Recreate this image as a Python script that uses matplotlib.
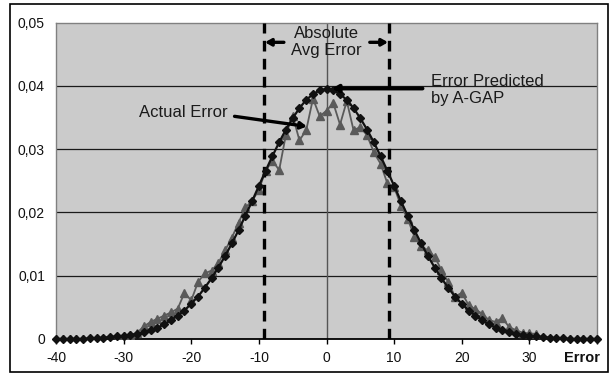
import matplotlib
matplotlib.use("Agg")
import matplotlib.pyplot as plt
from matplotlib.patches import Rectangle

plt.rcParams['font.family'] = ['Liberation Sans', 'DejaVu Sans']

# ---------------- data ----------------
x_values = list(range(-40, 41))

predicted = [
    0.0000, 0.0000, 0.0000, 0.0000, 0.0000, 0.0001, 0.0001, 0.0002, 0.0003, 0.0004,   # -40..-31
    0.0005, 0.0006, 0.0008, 0.0011, 0.0014, 0.0018, 0.0023, 0.0030, 0.0037, 0.0045,   # -30..-21
    0.0056, 0.0067, 0.0081, 0.0096, 0.0113, 0.0131, 0.0151, 0.0172, 0.0195, 0.0218,   # -20..-11
    0.0242, 0.0266, 0.0289, 0.0311, 0.0331, 0.0349, 0.0365, 0.0378, 0.0387, 0.0393,   # -10..-1
    0.0395,                                                                           # 0
    0.0393, 0.0387, 0.0378, 0.0365, 0.0349, 0.0331, 0.0311, 0.0289, 0.0266, 0.0242,   # 1..10
    0.0218, 0.0195, 0.0172, 0.0151, 0.0131, 0.0113, 0.0096, 0.0081, 0.0067, 0.0056,   # 11..20
    0.0045, 0.0037, 0.0030, 0.0023, 0.0018, 0.0014, 0.0011, 0.0008, 0.0006, 0.0005,   # 21..30
    0.0004, 0.0003, 0.0002, 0.0001, 0.0001, 0.0000, 0.0000, 0.0000, 0.0000, 0.0000,   # 31..40
]

actual = [
    0.0000, 0.0000, 0.0000, 0.0000, 0.0000, 0.0000, 0.0000, 0.0000, 0.0000, 0.0000,   # -40..-31
    0.0004, 0.0006, 0.0010, 0.0020, 0.0027, 0.0032, 0.0037, 0.0042, 0.0048, 0.0073,   # -30..-21
    0.0061, 0.0090, 0.0104, 0.0108, 0.0120, 0.0140, 0.0160, 0.0184, 0.0208, 0.0218,   # -20..-11
    0.0236, 0.0266, 0.0282, 0.0267, 0.0323, 0.0353, 0.0314, 0.0330, 0.0380, 0.0352,   # -10..-1
    0.0361,                                                                           # 0
    0.0373, 0.0339, 0.0376, 0.0330, 0.0335, 0.0322, 0.0295, 0.0277, 0.0246, 0.0240,   # 1..10
    0.0211, 0.0190, 0.0162, 0.0147, 0.0140, 0.0130, 0.0109, 0.0090, 0.0067, 0.0073,   # 11..20
    0.0054, 0.0047, 0.0040, 0.0030, 0.0027, 0.0033, 0.0019, 0.0014, 0.0010, 0.0009,   # 21..30
    0.0008, 0.0000, 0.0000, 0.0000, 0.0000, 0.0000, 0.0000, 0.0000, 0.0000, 0.0000,   # 31..40
]

x_ticks = [-40, -30, -20, -10, 0, 10, 20, 30, 40]
x_tick_labels = ['-40', '-30', '-20', '-10', '0', '10', '20', '30', '']
y_ticks = [0, 0.01, 0.02, 0.03, 0.04, 0.05]
y_tick_labels = ['0', '0,01', '0,02', '0,03', '0,04', '0,05']
abs_avg_error = 9.3

# ---------------- figure ----------------
fig = plt.figure(figsize=(6.14, 3.77), dpi=100)
fig.patch.set_facecolor('white')
ax = fig.add_axes([56 / 614, 1 - 339 / 377, 541 / 614, 316.3 / 377])
ax.set_facecolor('#CBCBCB')

# outer frame
fig.patches.append(Rectangle((10 / 614, 1 - 372 / 377), 598 / 614, 368 / 377,
                             transform=fig.transFigure, fill=False,
                             edgecolor='black', linewidth=1.2, zorder=0))

ax.set_xlim(-40, 40)
ax.set_ylim(0, 0.05)

for yv in y_ticks[1:-1]:
    ax.axhline(yv, color='#1a1a1a', linewidth=0.9, zorder=1)
ax.axvline(0, color='#555555', linewidth=1.0, zorder=1)

# dashed markers of absolute average error
for xv in (-abs_avg_error, abs_avg_error):
    ax.axvline(xv, color='black', linewidth=2.4, linestyle=(0, (3.2, 2.2)), zorder=4)

ax.plot(x_values, actual, color='#5a5a5a', linewidth=1.3, marker='^',
        markersize=6, markeredgecolor='#5a5a5a', markerfacecolor='#5a5a5a', zorder=3)
ax.plot(x_values, predicted, color='#111111', linewidth=1.6, marker='D',
        markersize=3.6, markeredgecolor='#111111', markerfacecolor='#111111', zorder=5,
        clip_on=False)

# spines / ticks
for s in ('left', 'top', 'right'):
    ax.spines[s].set_color('#808080')
    ax.spines[s].set_linewidth(1.0)
ax.spines['bottom'].set_color('black')
ax.spines['bottom'].set_linewidth(1.3)

ax.set_xticks(x_ticks)
ax.set_xticklabels(x_tick_labels)
ax.set_yticks(y_ticks)
ax.set_yticklabels(y_tick_labels)
ax.tick_params(axis='x', direction='out', length=3.5, width=1, color='black',
               pad=5, labelsize=10, labelcolor='#111111')
ax.tick_params(axis='y', length=0, pad=8, labelsize=10, labelcolor='#111111')

ax.annotate('Error', xy=(40.4, 0), xycoords=('data', 'axes fraction'),
            xytext=(0, -8.5), textcoords='offset points', ha='right', va='top',
            fontsize=10.5, fontweight='bold', color='#111111', annotation_clip=False)

# annotations
tc = '#1a1a1a'
ax.text(0, 0.0470, 'Absolute\nAvg Error', ha='center', va='center', fontsize=12,
        color=tc, linespacing=1.15, zorder=6)
ax.annotate('', xy=(-9.1, 0.0469), xytext=(-6.3, 0.0469),
            arrowprops=dict(arrowstyle='-|>,head_length=0.35,head_width=0.2',
                            color='black', lw=2.4, shrinkA=0, shrinkB=0), zorder=6)
ax.annotate('', xy=(9.1, 0.0469), xytext=(6.4, 0.0469),
            arrowprops=dict(arrowstyle='-|>,head_length=0.35,head_width=0.2',
                            color='black', lw=2.4, shrinkA=0, shrinkB=0), zorder=6)

ax.text(15.4, 0.0394, 'Error Predicted\nby A-GAP', ha='left', va='center', fontsize=12,
        color=tc, linespacing=1.15, zorder=6)
ax.annotate('', xy=(0.8, 0.0396), xytext=(14.2, 0.0396),
            arrowprops=dict(arrowstyle='-|>,head_length=0.35,head_width=0.2',
                            color='black', lw=2.8, shrinkA=0, shrinkB=0), zorder=6)

ax.text(-14.6, 0.0358, 'Actual Error', ha='right', va='center', fontsize=12,
        color=tc, zorder=6)
ax.annotate('', xy=(-2.9, 0.0336), xytext=(-13.6, 0.0352),
            arrowprops=dict(arrowstyle='-|>,head_length=0.35,head_width=0.2',
                            color='black', lw=2.4, shrinkA=0, shrinkB=0), zorder=6)

fig.savefig('out.png', dpi=100, facecolor='white')
